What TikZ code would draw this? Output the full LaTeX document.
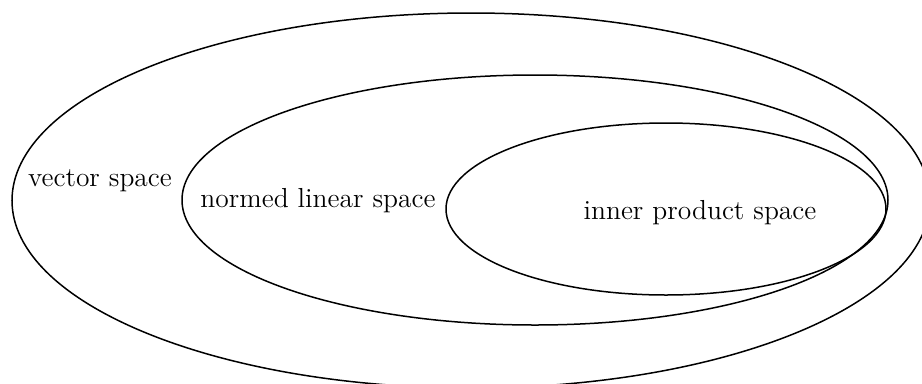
\documentclass[tikz,border=0pt]{standalone}
\usepackage{tikz}

\begin{document}
\begin{tikzpicture}[x=0.4pt, y=0.4pt,
  space/.style={draw=black, semithick},
  label/.style={font=\fontsize{11}{13}\selectfont, inner sep=1pt}
]
\useasboundingbox (0,0) rectangle (922,383);

\draw[space] (471,182.5) ellipse (459 and 187.5);
\draw[space] (535,183) ellipse (353 and 125);
\draw[space] (666,174) ellipse (220 and 86);

\node[label] (vs) at (100,202) {vector space};
\node[label] (nls) at (318,182) {normed linear space};
\node[label] (ips) at (700,170) {inner product space};

\end{tikzpicture}
\end{document}
